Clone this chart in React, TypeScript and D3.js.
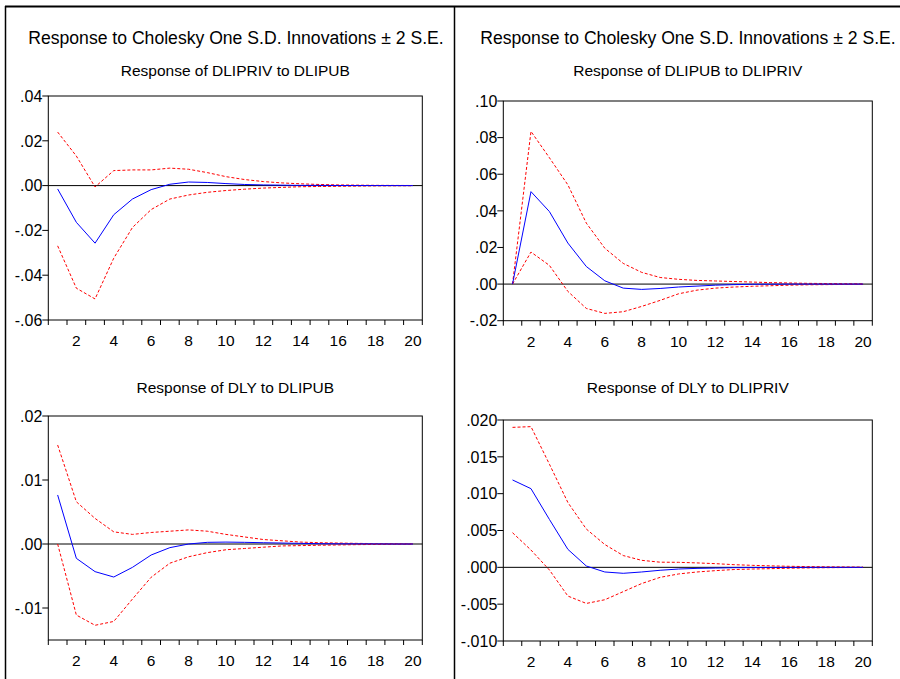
import React from 'react';
import * as d3 from 'd3';

// impulse response periods
const periods = [1, 2, 3, 4, 5, 6, 7, 8, 9, 10, 11, 12, 13, 14, 15, 16, 17, 18, 19, 20];
const xTickLabels = [2, 4, 6, 8, 10, 12, 14, 16, 18, 20];

const mainTitle = 'Response to Cholesky One S.D. Innovations \u00b1 2 S.E.';

// Response of DLIPRIV to DLIPUB
const privPubResp = [-0.0015, -0.0164, -0.0257, -0.013, -0.006, -0.0018, 0.0006, 0.0016, 0.0014, 0.0009, 0.0005, 0.0003, 0.0002, 0.0001, 0.0001, 0.00005, 0.00003, 0.00002, 0.00001, 0];
const privPubUpper = [0.0239, 0.0132, -0.0006, 0.0067, 0.007, 0.007, 0.0078, 0.0073, 0.0058, 0.004, 0.0027, 0.0018, 0.0012, 0.0008, 0.0005, 0.0003, 0.0002, 0.00012, 0.00008, 0.00005];
const privPubLower = [-0.0269, -0.0458, -0.0506, -0.0324, -0.0187, -0.0107, -0.006, -0.0042, -0.003, -0.0022, -0.0016, -0.0011, -0.0008, -0.0005, -0.0004, -0.0003, -0.0002, -0.00012, -0.00008, -0.00005];
const privPubTicks = [0.04, 0.02, 0, -0.02, -0.04, -0.06];

// Response of DLIPUB to DLIPRIV
const pubPrivResp = [0, 0.0505, 0.0396, 0.0224, 0.0096, 0.0018, -0.0022, -0.0029, -0.0024, -0.0016, -0.0011, -0.0006, -0.0003, -0.0001, -0.00005, 0, 0, 0, 0, 0];
const pubPrivUpper = [0, 0.0834, 0.069, 0.0542, 0.0333, 0.0196, 0.0113, 0.0064, 0.0036, 0.0026, 0.002, 0.0017, 0.0014, 0.0011, 0.0008, 0.0006, 0.0004, 0.0003, 0.0002, 0.0001];
const pubPrivLower = [0, 0.0175, 0.0102, -0.004, -0.0133, -0.016, -0.0151, -0.0122, -0.0089, -0.0053, -0.0033, -0.0022, -0.0016, -0.0012, -0.0009, -0.0006, -0.0004, -0.0003, -0.0002, -0.0001];
const pubPrivTicks = [0.1, 0.08, 0.06, 0.04, 0.02, 0, -0.02];

// Response of DLY to DLIPUB
const yPubResp = [0.00766, -0.00224, -0.00432, -0.00516, -0.00365, -0.00172, -0.00057, 0, 0.00026, 0.0003, 0.00026, 0.0002, 0.00015, 0.0001, 0.00005, 0.00003, 0.00002, 0.00001, 0, 0];
const yPubUpper = [0.01547, 0.0066, 0.004, 0.0019, 0.0015, 0.0018, 0.002, 0.0022, 0.002, 0.0015, 0.0011, 0.0007, 0.0005, 0.0003, 0.0002, 0.00015, 0.0001, 0.00006, 0.00004, 0.00002];
const yPubLower = [0, -0.0111, -0.0127, -0.0121, -0.0086, -0.0052, -0.003, -0.002, -0.00135, -0.0009, -0.0007, -0.0005, -0.0003, -0.00025, -0.0002, -0.00015, -0.0001, -0.00007, -0.00004, -0.00002];
const yPubTicks = [0.02, 0.01, 0, -0.01];

// Response of DLY to DLIPRIV
const yPrivResp = [0.01186, 0.01068, 0.0065, 0.00244, 0.00018, -0.00063, -0.00081, -0.00063, -0.0004, -0.00023, -0.00014, -0.0001, -0.00005, -0.00003, -0.00002, -0.00001, 0, 0, 0, 0];
const yPrivUpper = [0.019, 0.0191, 0.014, 0.0088, 0.0052, 0.0031, 0.0016, 0.00095, 0.0007, 0.00068, 0.0006, 0.0005, 0.00036, 0.00027, 0.0002, 0.00014, 0.0001, 0.00007, 0.00005, 0.00003];
const yPrivLower = [0.0047, 0.00235, -0.00036, -0.0039, -0.0049, -0.0044, -0.0033, -0.0022, -0.00136, -0.0009, -0.00063, -0.00045, -0.0003, -0.00023, -0.00018, -0.00012, -0.00008, -0.00005, -0.00003, -0.00002];
const yPrivTicks = [0.02, 0.015, 0.01, 0.005, 0, -0.005, -0.01];

const FONT = '"Liberation Sans", Arial, sans-serif';

// eviews style labels: .04, -.06, .000
const fmtTick = (v: number, dec: number) => {
  const s = v.toFixed(dec);
  return s.replace(/^(-?)0\./, '$1.');
};

type PanelProps = {
  title: string;
  resp: number[];
  upper: number[];
  lower: number[];
  ticks: number[];
  domain: [number, number];
  dec: number;
  x0: number;
  x1: number;
  y0: number;
  y1: number;
  titleY: number;
};

const Panel = ({ title, resp, upper, lower, ticks, domain, dec, x0, x1, y0, y1, titleY }: PanelProps) => {
  const x = d3.scaleBand<number>().domain(periods).range([x0, x1]);
  const y = d3.scaleLinear().domain(domain).range([y1, y0]);
  const cx = (p: number) => (x(p) as number) + x.bandwidth() / 2;

  const line = d3.line<number>()
    .x((_, i) => cx(periods[i]))
    .y(d => y(d));

  const bounds = d3.range(periods.length + 1).map(i => x0 + i * x.step());

  return (
    <g>
      <text x={(x0 + x1) / 2} y={titleY} textAnchor="middle" fontSize={15.5} fill="#000">{title}</text>
      <line x1={x0} x2={x1} y1={y(0)} y2={y(0)} stroke="#000" strokeWidth={1} />
      <path d={line(upper) || ''} fill="none" stroke="#ff0000" strokeWidth={1} strokeDasharray="3,2" />
      <path d={line(lower) || ''} fill="none" stroke="#ff0000" strokeWidth={1} strokeDasharray="3,2" />
      <path d={line(resp) || ''} fill="none" stroke="#0000ff" strokeWidth={1} />
      <rect x={x0} y={y0} width={x1 - x0} height={y1 - y0} fill="none" stroke="#000" strokeWidth={1} />
      {ticks.map(t => (
        <g key={t}>
          <line x1={x0 - 6} x2={x0} y1={y(t)} y2={y(t)} stroke="#000" />
          <text x={x0 - 6} y={y(t)} dy="0.36em" textAnchor="end" fontSize={16} fill="#000">{fmtTick(t, dec)}</text>
        </g>
      ))}
      {bounds.map((b, i) => (
        <line key={i} x1={b} x2={b} y1={y1} y2={y1 + 5} stroke="#000" />
      ))}
      {xTickLabels.map(p => (
        <text key={p} x={cx(p)} y={y1 + 26} textAnchor="middle" fontSize={15.5} fill="#000">{p}</text>
      ))}
    </g>
  );
};

export default function App() {
  return (
    <div style={{ position: 'absolute', left: 0, top: 0 }}>
      <svg width={900} height={679} style={{ display: 'block', background: '#fff', fontFamily: FONT }}>
        <rect x={0} y={0} width={900} height={679} fill="#fff" />
        <line x1={5} x2={900} y1={6.5} y2={6.5} stroke="#000" strokeWidth={2} />
        <line x1={5.5} x2={5.5} y1={6} y2={679} stroke="#000" strokeWidth={1.5} />
        <line x1={454.5} x2={454.5} y1={6} y2={679} stroke="#000" strokeWidth={1.5} />

        <text x={236} y={44} textAnchor="middle" fontSize={17.6} fill="#000">{mainTitle}</text>
        <text x={688} y={44} textAnchor="middle" fontSize={17.6} fill="#000">{mainTitle}</text>

        <Panel title="Response of DLIPRIV to DLIPUB" resp={privPubResp} upper={privPubUpper} lower={privPubLower}
          ticks={privPubTicks} domain={[-0.06, 0.04]} dec={2} x0={48.3} x1={422.3} y0={96} y1={320} titleY={76} />
        <Panel title="Response of DLIPUB to DLIPRIV" resp={pubPrivResp} upper={pubPrivUpper} lower={pubPrivLower}
          ticks={pubPrivTicks} domain={[-0.02, 0.1]} dec={2} x0={503.3} x1={872.3} y0={101} y1={320.7} titleY={76} />
        <Panel title="Response of DLY to DLIPUB" resp={yPubResp} upper={yPubUpper} lower={yPubLower}
          ticks={yPubTicks} domain={[-0.015, 0.02]} dec={2} x0={48.3} x1={422.3} y0={416} y1={640} titleY={393} />
        <Panel title="Response of DLY to DLIPRIV" resp={yPrivResp} upper={yPrivUpper} lower={yPrivLower}
          ticks={yPrivTicks} domain={[-0.01, 0.02]} dec={3} x0={503.3} x1={872.3} y0={420} y1={641} titleY={393} />
      </svg>
    </div>
  );
}
